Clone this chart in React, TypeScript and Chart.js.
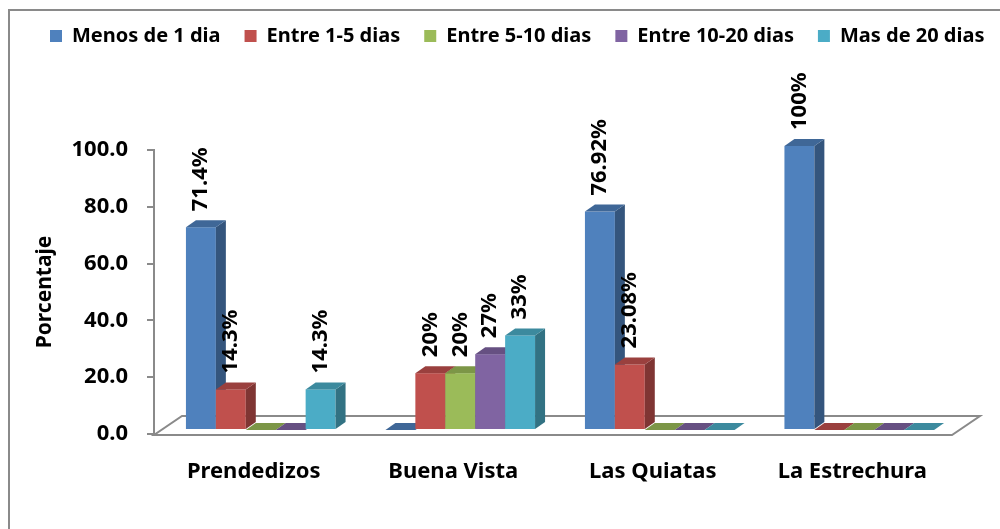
import React, { useEffect, useRef } from "react";
import { Chart, registerables } from "chart.js";

Chart.register(...registerables);

const categories = ["Prendedizos", "Buena Vista", "Las Quiatas", "La Estrechura"];
const seriesNames = ["Menos de 1 dia", "Entre 1-5 dias", "Entre 5-10 dias", "Entre 10-20 dias", "Mas de 20 dias"];
const menos1 = [71.4, 0, 76.92, 100];
const entre1a5 = [14.3, 20, 23.08, 0];
const entre5a10 = [0, 20, 0, 0];
const entre10a20 = [0, 26.7, 0, 0];
const mas20 = [14.3, 33.3, 0, 0];
const menos1Labels = ["71.4%", "", "76.92%", "100%"];
const entre1a5Labels = ["14.3%", "20%", "23.08%", ""];
const entre5a10Labels = ["", "20%", "", ""];
const entre10a20Labels = ["", "27%", "", ""];
const mas20Labels = ["14.3%", "33%", "", ""];
const yMin = 0;
const yMax = 100;
const yStep = 20;
const seriesColors = ["#4F81BD", "#C0504D", "#9BBB59", "#8064A2", "#4BACC6"];

const seriesData = [menos1, entre1a5, entre5a10, entre10a20, mas20];
const seriesLabels = [menos1Labels, entre1a5Labels, entre5a10Labels, entre10a20Labels, mas20Labels];

const FONT = "'Noto Sans', sans-serif";
const GRAY = "#8a8a8a";
const DX = 10; // bar depth x
const DY = 7; // bar depth y
const OX = 7; // bar plane offset
const OY = -4;
const FDX = 28; // floor depth
const FDY = 19;

function shade(hex: string, f: number) {
  const n = parseInt(hex.slice(1), 16);
  const r = Math.round(((n >> 16) & 255) * f);
  const g = Math.round(((n >> 8) & 255) * f);
  const b = Math.round((n & 255) * f);
  return `rgb(${r},${g},${b})`;
}

const backgroundPlugin = {
  id: "bgBorder",
  beforeDraw(chart: any) {
    const { ctx, width, height } = chart;
    ctx.save();
    ctx.fillStyle = "#ffffff";
    ctx.fillRect(0, 0, width, height);
    ctx.strokeStyle = GRAY;
    ctx.lineWidth = 2;
    ctx.strokeRect(9, 10, width + 20, height + 20);
    ctx.restore();
  },
};

const legendPlugin = {
  id: "legendFix",
  beforeLayout(chart: any) {
    const lg = chart.legend;
    if (lg && !lg.__patched) {
      const orig = lg.fit;
      lg.fit = function () {
        this.maxWidth = 2000;
        orig.call(this);
        this.width = 952;
        this.height = 150;
      };
      lg.__patched = true;
    }
  },
  afterLayout(chart: any) {
    const lg = chart.legend;
    if (!lg) return;
    const pad = lg.options.labels.padding;
    const fs = lg.options.labels.font.size;
    const lw = lg.lineWidths ? lg.lineWidths[0] : 900;
    const startX = 50;
    lg.left = startX - pad;
    lg.right = startX + lw;
    lg.top = 36 - pad - fs / 2;
  },
};

const threeDPlugin = {
  id: "threeD",
  beforeDatasetsDraw(chart: any) {
    const { ctx, chartArea } = chart;
    const { left, right, bottom } = chartArea;
    ctx.save();
    ctx.strokeStyle = GRAY;
    ctx.lineWidth = 2;
    ctx.beginPath();
    ctx.moveTo(left, bottom + 1);
    ctx.lineTo(right, bottom + 1);
    ctx.lineTo(right + FDX, bottom + 1 - FDY);
    ctx.lineTo(left + FDX, bottom + 1 - FDY);
    ctx.closePath();
    ctx.stroke();
    ctx.restore();
  },
  beforeDatasetDraw() {
    return false;
  },
  afterDatasetsDraw(chart: any) {
    const { ctx } = chart;
    const nCat = chart.data.labels.length;
    const nDs = chart.data.datasets.length;
    ctx.save();
    for (let i = 0; i < nCat; i++) {
      for (let d = 0; d < nDs; d++) {
        const meta = chart.getDatasetMeta(d);
        const el = meta.data[i];
        if (!el) continue;
        const p = el.getProps(["x", "y", "base", "width"], true);
        const color = seriesColors[d];
        const l = p.x - p.width / 2 + OX;
        const r = p.x + p.width / 2 + OX;
        const t = Math.min(p.y, p.base) + OY;
        const b = p.base + OY;
        if (b - t > 0.5) {
          ctx.fillStyle = color;
          ctx.fillRect(l, t, r - l, b - t);
          ctx.fillStyle = shade(color, 0.66);
          ctx.beginPath();
          ctx.moveTo(r, t);
          ctx.lineTo(r + DX, t - DY);
          ctx.lineTo(r + DX, b - DY);
          ctx.lineTo(r, b);
          ctx.closePath();
          ctx.fill();
        }
        ctx.fillStyle = shade(color, 0.8);
        ctx.beginPath();
        ctx.moveTo(l, t);
        ctx.lineTo(l + DX, t - DY);
        ctx.lineTo(r + DX, t - DY);
        ctx.lineTo(r, t);
        ctx.closePath();
        ctx.fill();
      }
    }
    // data labels
    ctx.fillStyle = "#000000";
    ctx.font = `bold 22px ${FONT}`;
    ctx.textAlign = "left";
    ctx.textBaseline = "middle";
    for (let d = 0; d < nDs; d++) {
      const meta = chart.getDatasetMeta(d);
      meta.data.forEach((el: any, i: number) => {
        const txt = seriesLabels[d][i];
        if (!txt) return;
        const p = el.getProps(["x", "y"], true);
        ctx.save();
        ctx.translate(p.x + OX, p.y + OY - 16);
        ctx.rotate(-Math.PI / 2);
        ctx.fillText(txt, 0, 0);
        ctx.restore();
      });
    }
    ctx.restore();
  },
};

export default function App() {
  const ref = useRef<HTMLCanvasElement>(null);
  useEffect(() => {
    if (!ref.current) return;
    const chart = new Chart(ref.current, {
      type: "bar",
      data: {
        labels: categories,
        datasets: seriesNames.map((name, d) => ({
          label: name,
          data: seriesData[d],
          backgroundColor: seriesColors[d],
          borderWidth: 0,
          categoryPercentage: 0.75,
          barPercentage: 1,
        })),
      },
      options: {
        responsive: false,
        animation: false,
        layout: { padding: { left: 0, right: 48, top: 0, bottom: 0 } },
        plugins: {
          tooltip: { enabled: false },
          legend: {
            display: true,
            position: "top",
            labels: {
              boxWidth: 12,
              boxHeight: 12,
              padding: 24,
              color: "#000000",
              font: { family: FONT, size: 20, weight: "bold" },
            },
          },
        },
        scales: {
          x: {
            grid: { display: false },
            border: { display: false },
            ticks: {
              color: "#000000",
              padding: 17,
              font: { family: FONT, size: 22, weight: "bold" },
            },
            afterFit(scale: any) {
              scale.height = 95;
            },
          },
          y: {
            min: yMin,
            max: yMax,
            border: { display: true, color: GRAY, width: 2 },
            grid: {
              display: true,
              drawOnChartArea: false,
              drawTicks: true,
              tickLength: 7,
              color: GRAY,
              lineWidth: 2,
            },
            ticks: {
              stepSize: yStep,
              color: "#000000",
              padding: 19,
              font: { family: FONT, size: 22, weight: "bold" },
              callback: (v: any) => Number(v).toFixed(1),
            },
            title: {
              display: true,
              text: "Porcentaje",
              color: "#000000",
              padding: { top: 32, bottom: 0 },
              font: { family: FONT, size: 21, weight: "bold" },
            },
            afterFit(scale: any) {
              scale.width = 154;
            },
          },
        },
      },
      plugins: [backgroundPlugin, legendPlugin, threeDPlugin],
    } as any);
    return () => chart.destroy();
  }, []);
  return (
    <div style={{ position: "fixed", left: 0, top: 0, width: 1000, height: 529, background: "#fff" }}>
      <canvas ref={ref} width={1000} height={529} style={{ width: 1000, height: 529, display: "block" }} />
    </div>
  );
}
